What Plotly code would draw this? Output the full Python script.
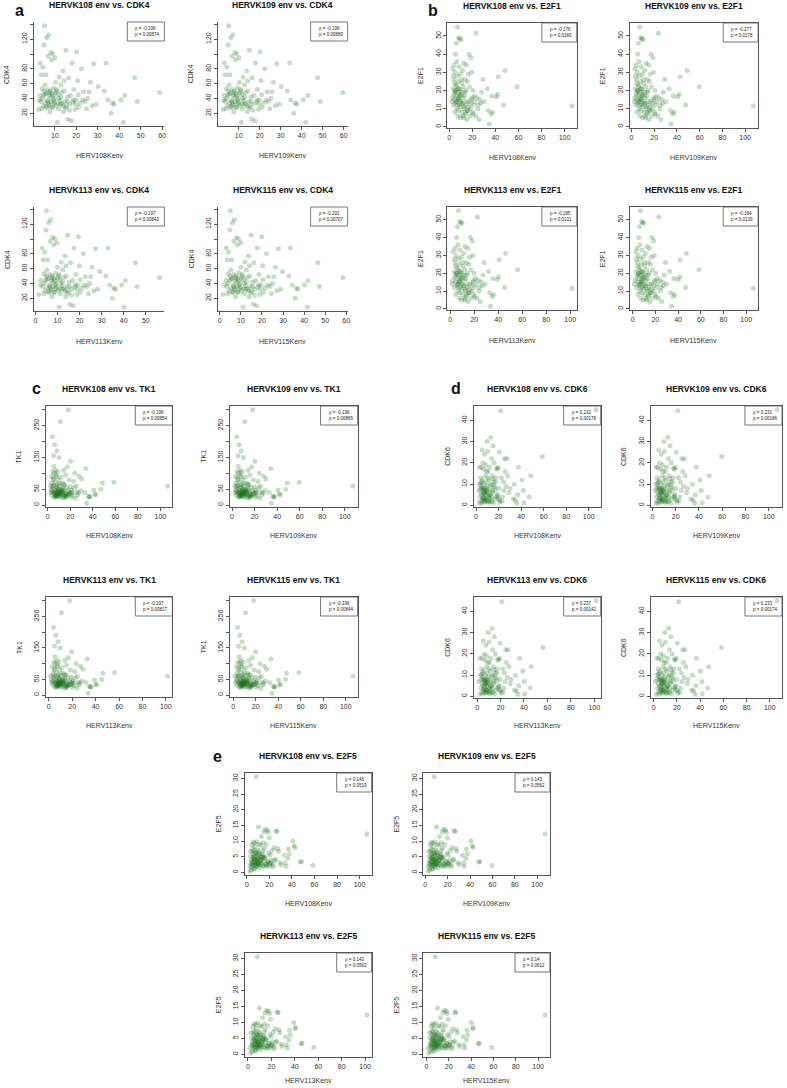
import math
import plotly.graph_objects as go

# ---------------- data (one entry per sample) ----------------
herv108 = [106.5, 58.8, 48.5, 47.2, 42.6, 41.9, 40.8, 37.6, 36.9, 36.2,
           34.8, 33.9, 33.1, 30.2, 29.3, 28.1, 27.4, 26.6, 25.9, 25.3,
           24.8, 24.1, 23.4, 23.0, 22.4, 21.8, 21.1, 20.6, 20.2, 19.8,
           19.4, 18.9, 18.4, 18.1, 17.7, 17.3, 16.9, 16.4, 16.1, 15.8,
           15.4, 15.1, 14.8, 14.4, 14.1, 13.8, 13.4, 13.1, 12.8, 12.4,
           12.1, 11.8, 11.5, 11.2, 10.9, 10.6, 10.3, 10.1, 9.8, 9.6,
           9.3, 9.1, 8.9, 8.7, 8.5, 8.3, 8.1, 7.9, 7.7, 7.5,
           7.3, 7.1, 6.9, 6.8, 6.6, 6.4, 6.2, 6.0, 5.8, 5.6,
           5.4, 5.2, 5.0, 4.8, 4.6, 4.4, 4.2, 4.0, 3.7, 3.5,
           3.2, 2.9, 2.5, 11.9, 9.9, 13.9, 8.2, 6.1, 15.9, 10.8,
           9.2, 7.2, 12.9, 5.1, 18.7, 20.9, 14.9, 9.4, 12.6, 7.6,
           4.1, 16.8, 10.4, 6.7, 14.3, 8.6, 3.1, 11.6, 5.5, 19.6]

herv109 = [107.2, 59.6, 48.9, 47.6, 42.9, 41.9, 40.8, 37.6, 36.9, 36.2,
           34.8, 34.3, 33.1, 30.2, 29.3, 28.1, 27.4, 26.6, 25.9, 25.3,
           24.8, 24.1, 23.6, 23.0, 22.4, 21.8, 21.1, 20.6, 20.2, 19.8,
           19.4, 18.9, 18.4, 18.1, 17.7, 17.3, 16.9, 16.4, 16.1, 15.8,
           15.4, 15.1, 14.8, 14.4, 14.1, 13.8, 13.4, 13.1, 12.8, 12.4,
           12.1, 11.8, 11.5, 11.2, 10.9, 10.6, 10.3, 10.1, 9.8, 9.6,
           9.3, 9.1, 8.9, 8.7, 8.5, 8.3, 8.1, 7.9, 7.7, 7.5,
           7.3, 7.1, 6.9, 6.8, 6.6, 6.4, 6.2, 6.0, 5.8, 5.6,
           5.4, 5.2, 5.0, 4.8, 4.6, 4.4, 4.2, 4.0, 3.7, 3.5,
           3.2, 2.9, 2.5, 11.9, 9.9, 13.9, 8.2, 6.1, 15.9, 10.8,
           9.2, 7.2, 12.9, 5.1, 18.7, 20.9, 14.9, 9.4, 12.6, 7.6,
           4.1, 16.8, 10.4, 6.7, 14.3, 8.6, 3.1, 11.6, 5.5, 19.6]

herv113 = [101.5, 56.2, 46.1, 45.3, 40.7, 40.2, 39.1, 36.2, 35.5, 34.9,
           33.6, 32.8, 31.9, 29.1, 28.3, 27.2, 26.5, 25.7, 25.0, 24.5,
           24.0, 23.3, 22.6, 22.2, 21.7, 21.1, 20.4, 19.9, 19.5, 19.2,
           18.8, 18.3, 17.8, 17.5, 17.1, 16.8, 16.4, 15.9, 15.6, 15.3,
           14.9, 14.6, 14.3, 14.0, 13.7, 13.4, 13.0, 12.7, 12.4, 12.0,
           11.7, 11.4, 11.1, 10.8, 10.6, 10.3, 10.0, 9.8, 9.5, 9.3,
           9.0, 8.8, 8.6, 8.4, 8.2, 8.0, 7.8, 7.7, 7.5, 7.3,
           7.1, 6.9, 6.7, 6.6, 6.4, 6.2, 6.0, 5.8, 5.6, 5.4,
           5.2, 5.0, 4.8, 4.6, 4.4, 4.2, 4.0, 3.8, 3.5, 3.3,
           3.0, 2.2, 1.5, 11.5, 9.6, 13.5, 7.9, 5.9, 15.4, 10.5,
           8.9, 7.0, 12.5, 4.9, 18.1, 20.2, 14.4, 9.1, 12.2, 7.4,
           3.9, 16.3, 10.1, 6.5, 13.8, 8.3, 2.4, 11.2, 5.3, 19.0]

herv115 = [106.3, 58.4, 47.3, 46.5, 41.8, 41.5, 40.2, 37.0, 36.4, 35.8,
           34.4, 33.5, 32.7, 29.8, 28.9, 27.8, 27.0, 26.3, 25.6, 25.0,
           24.5, 23.8, 23.1, 22.7, 22.1, 21.5, 20.8, 20.3, 19.9, 19.5,
           19.1, 18.6, 18.1, 17.8, 17.4, 17.0, 16.6, 16.2, 15.9, 15.6,
           15.2, 14.9, 14.6, 14.2, 13.9, 13.6, 13.2, 12.9, 12.6, 12.2,
           11.9, 11.6, 11.3, 11.0, 10.7, 10.4, 10.1, 9.9, 9.6, 9.4,
           9.1, 8.9, 8.7, 8.5, 8.3, 8.1, 7.9, 7.7, 7.5, 7.3,
           7.1, 6.9, 6.7, 6.6, 6.4, 6.2, 6.0, 5.8, 5.6, 5.4,
           5.2, 5.0, 4.8, 4.6, 4.4, 4.2, 4.0, 3.8, 3.5, 3.3,
           3.0, 2.1, 1.5, 11.7, 9.7, 13.7, 8.0, 6.0, 15.7, 10.6,
           9.0, 7.1, 12.7, 5.0, 18.4, 20.6, 14.7, 9.2, 12.4, 7.5,
           4.0, 16.6, 10.2, 6.6, 14.1, 8.4, 2.9, 11.4, 5.4, 19.3]

cdk4 = [None, 48, 36, 68, 44, 8, 38, 32, 34, 20,
        38, 88, 50, 56, 32, 87, 30, 62, 49, 40,
        26, 36, 49, 38, 80, 34, 28, 64, 103, 38,
        25, 52, 35, 88, 10, 44, 32, 68, 12, 42,
        29, 105, 36, 50, 22, 77, 33, 48, 58, 37,
        69, 26, 45, 8, 52, 30, 62, 95, 40, 33,
        54, 100, 28, 47, 92, 36, 102, 50, 22, 44,
        31, 126, 97, 52, 38, 27, 122, 47, 72, 34,
        58, 138, 112, 44, 30, 82, 40, 26, 72, 36,
        88, 38, 25, 40, 35, 30, 42, 29, 36, 50,
        44, 33, 42, 50, 38, 45, 27, 38, 32, 48,
        53, 24, 47, 36, 64, 28, 44, 33, 46, 32]

e2f1 = [11.5, 22, 31, 12, 27.5, 18, 16.5, 8, 17, 7,
        1.5, 9, 21, 14, 26, 19, 13, 15, 4, 12,
        10, 16, 51.5, 6, 14, 17, 12, 20, 8, 16,
        30, 38, 10, 6, 22, 40, 14, 29, 9, 25,
        4, 34, 20, 12, 7, 26, 17, 11, 35, 22,
        6, 19, 31, 13, 8, 26, 14, 48, 20, 5,
        17, 48.5, 12, 21, 33, 9, 49, 15, 25, 6,
        19, 55, 28, 14, 36, 10, 46, 17, 23, 13,
        40, 20, 30, 8, 24, 15, 34, 18, 12, 28,
        21, 16, 14, 16, 11, 19, 21, 14, 9, 24,
        18, 12, 10, 19, 13, 7, 14, 29, 5, 16,
        26, 11, 17.5, 22, 8, 15, 32, 13, 20, 15]

tk1 = [60, 72, 70, 50, 33, 35, 48, 27, 25, 28,
       6, 115, 40, 82, 45, 92, 38, 33, 42, 60,
       22, 100, 55, 75, 30, 38, 47, 25, 138, 58,
       40, 80, 300, 45, 32, 120, 55, 36, 28, 95,
       42, 65, 30, 38, 110, 48, 25, 70, 40, 52,
       35, 88, 30, 262, 45, 25, 62, 150, 37, 80,
       52, 28, 105, 40, 65, 33, 170, 45, 90, 38,
       58, 110, 30, 72, 48, 35, 190, 42, 100, 25,
       62, 155, 80, 38, 55, 105, 215, 45, 70, 32,
       90, 40, 60, 48, 33, 55, 30, 40, 27, 68,
       38, 26, 44, 85, 34, 41, 22, 47, 36, 95,
       60, 30, 42, 28, 65, 55, 48, 38, 122, 35]

cdk6 = [45, 23, 14, 4, 1.2, 7, 12, 18, 5, 1,
        2.5, 10, 3, 8, 6, 14, 22, 9, 16, 22,
        7, 11, 4, 2, 13, 44.5, 1.5, 25, 8, 18,
        5, 17, 4, 17.5, 13, 11, 7, 3, 20, 9,
        1, 28, 6, 14, 2, 22, 10, 32, 5, 7.5,
        18, 3, 12, 1.2, 16, 6, 25.5, 4, 30, 9,
        2.5, 11, 7, 19, 5, 14, 8, 3, 1.5, 24,
        10, 6, 17, 4, 7, 2, 20, 8, 12, 3,
        26, 5, 1, 9, 18, 6, 2, 13, 8, 4,
        10, 1, 7, 5, 8, 4, 6, 3.5, 11, 2,
        16, 7.5, 9.5, 11, 4.5, 2.5, 12.5, 6.5, 1.8, 3,
        10.5, 8.5, 13, 5.5, 7, 2, 18, 4, 8, 3]

e2f5 = [12.3, 2.2, 3.5, 3.3, 8, 8.5, 10, 6, 7.5, 4.5,
        2, 3, 5.5, 2.5, 3.2, 6.8, 7.6, 13.1, 13.2, 4.2,
        3.8, 8, 2.5, 1.8, 7, 4, 3, 5.6, 2.7, 11,
        6.2, 12.8, 3.4, 13.5, 2.2, 9, 2.6, 13.8, 5, 4.5,
        7.8, 13, 3.6, 9.5, 2.1, 4.8, 6, 3, 11.5, 2.4,
        8.7, 4.2, 5.3, 1.5, 9, 3.1, 6.7, 14.5, 2.5, 4.6,
        7.2, 5.8, 1.8, 3.9, 9.8, 2.9, 30.5, 4.1, 6.4, 3.3,
        8.2, 5.1, 2.6, 9.3, 4.4, 1.2, 7, 3.5, 5.9, 2.2,
        9.6, 4.8, 3, 6.5, 2.4, 8.8, 1.6, 4, 0.8, 2.9,
        5.2, 0.4, 2, 3.7, 2.8, 5.5, 2.1, 4.3, 1.9, 6.1,
        3.2, 2.3, 4.9, 7.5, 3.6, 2.9, 4.7, 5.4, 3.9, 6,
        3.4, 2.7, 4.4, 1.1, 7, 3.8, 6.8, 2.6, 5, 2]

herv_names = ["108", "109", "113", "115"]

cdk4_rho = ["-0.196", "-0.196", "-0.197", "-0.201"]
cdk4_p = ["0.00874", "0.00889", "0.00842", "0.00707"]
e2f1_rho = ["-0.176", "-0.177", "-0.185", "-0.184"]
e2f1_p = ["0.0183", "0.0178", "0.0131", "0.0139"]
tk1_rho = ["-0.196", "-0.196", "-0.197", "-0.196"]
tk1_p = ["0.00854", "0.00865", "0.00817", "0.00844"]
cdk6_rho = ["0.232", "0.231", "0.237", "0.233"]
cdk6_p = ["0.00178", "0.00186", "0.00142", "0.00174"]
e2f5_rho = ["0.146", "0.143", "0.143", "0.14"]
e2f5_p = ["0.0519", "0.0562", "0.0563", "0.0612"]

# ---------------- layout (pixel geometry) ----------------
W, H = 787, 1088
FONT = "Liberation Sans, Arial, Helvetica, sans-serif"
GREEN = "rgba(0,100,0,0.22)"
AXC = "#555555"
TXT = "#222222"

hervs = [herv108, herv109, herv113, herv115]

panels = [
    dict(letter="a", gene="CDK4", y=cdk4, rho=cdk4_rho, p=cdk4_p, boxed=False,
         cols=[(34, 165), (219, 349)], rows=[(22, 126), (207, 311)], xlab_off=[30, 30],
         xstep=10, ystep=20, yhide=[100, 140], lab=(20, 0)),
    dict(letter="b", gene="E2F1", y=e2f1, rho=e2f1_rho, p=e2f1_p, boxed=True,
         cols=[(449, 579), (632, 761)], rows=[(23, 128), (207, 310)], xlab_off=[29, 30],
         xstep=20, ystep=10, yhide=[], lab=(435, 0)),
    dict(letter="c", gene="TK1", y=tk1, rho=tk1_rho, p=tk1_p, boxed=True,
         cols=[(46, 173), (231, 359)], rows=[(406, 507), (597, 697)], xlab_off=[28, 28],
         xstep=20, ystep=50, yhide=[100, 200, 300], lab=(37, 378)),
    dict(letter="d", gene="CDK6", y=cdk6, rho=cdk6_rho, p=cdk6_p, boxed=True,
         cols=[(476, 603), (653, 785)], rows=[(406, 507), (597, 698)], xlab_off=[28, 27],
         xstep=20, ystep=10, yhide=[], lab=(458, 378)),
    dict(letter="e", gene="E2F5", y=e2f5, rho=e2f5_rho, p=e2f5_p, boxed=True,
         cols=[(246, 373), (425, 552)], rows=[(773, 875), (953, 1057)], xlab_off=[28, 23],
         xstep=20, ystep=5, yhide=[], lab=(218, 746)),
]


def fx(px):
    return px / W


def fy(py):
    return 1 - py / H


def rrange(v):
    lo, hi = min(v), max(v)
    pad = 0.04 * (hi - lo)
    return [lo - pad, hi + pad]


def make_ticks(r, step):
    t = math.ceil(r[0] / step - 1e-9) * step
    out = []
    while t <= r[1] + 1e-9:
        out.append(round(t, 6))
        t += step
    return out


def fmt(v):
    return str(int(v)) if float(v).is_integer() else str(v)


fig = go.Figure()
layout = dict(width=W, height=H, autosize=False, margin=dict(l=0, r=0, t=0, b=0),
              paper_bgcolor="white", plot_bgcolor="white", showlegend=False,
              font=dict(family=FONT, color=TXT))
annotations = []
shapes = []

n = 0
for pan in panels:
    lx, ly = pan["lab"]
    annotations.append(dict(text="<b>%s</b>" % pan["letter"], x=fx(lx), y=fy(ly),
                            xref="paper", yref="paper", showarrow=False,
                            xanchor="center", yanchor="top",
                            font=dict(size=16, family=FONT, color="#111")))
    for k in range(4):
        n += 1
        sfx = "" if n == 1 else str(n)
        r, c = k // 2, k % 2
        x0, x1 = pan["cols"][c]
        y0, y1 = pan["rows"][r]
        xs, ys = [], []
        for xv, yv in zip(hervs[k], pan["y"]):
            if yv is not None:
                xs.append(xv)
                ys.append(yv)
        fig.add_trace(go.Scatter(x=xs, y=ys, mode="markers", xaxis="x" + sfx, yaxis="y" + sfx,
                                 marker=dict(size=5, color=GREEN, line=dict(width=0)),
                                 hoverinfo="skip", showlegend=False))
        xr = rrange(xs)
        yr = rrange(ys)
        xt = make_ticks(xr, pan["xstep"])
        yt = make_ticks(yr, pan["ystep"])
        ytxt = ["" if v in pan["yhide"] else fmt(v) for v in yt]
        common = dict(ticks="outside", ticklen=3, tickwidth=0.8, tickcolor=AXC,
                      showline=True, linecolor=AXC, linewidth=0.8,
                      mirror=pan["boxed"], showgrid=False, zeroline=False,
                      tickfont=dict(size=7, family=FONT, color="#333"), fixedrange=True)
        layout["xaxis" + sfx] = dict(domain=[fx(x0), fx(x1)], range=xr, tickvals=xt,
                                     ticktext=[fmt(v) for v in xt], anchor="y" + sfx, **common)
        layout["yaxis" + sfx] = dict(domain=[fy(y1), fy(y0)], range=yr, tickvals=yt,
                                     ticktext=ytxt, tickangle=-90, anchor="x" + sfx, **common)
        cx = (x0 + x1) / 2
        # title
        annotations.append(dict(text="<b>HERVK%s env vs. %s</b>" % (herv_names[k], pan["gene"]),
                                x=fx(cx), y=fy(y0 - 17), xref="paper", yref="paper",
                                showarrow=False, xanchor="center", yanchor="middle",
                                font=dict(size=8.5, family=FONT, color="#111")))
        # axis titles
        annotations.append(dict(text="HERV%sKenv" % herv_names[k], x=fx(cx),
                                y=fy(y1 + pan["xlab_off"][r]),
                                xref="paper", yref="paper", showarrow=False,
                                xanchor="center", yanchor="middle",
                                font=dict(size=7, family=FONT, color="#333")))
        annotations.append(dict(text=pan["gene"], x=fx(x0 - 27), y=fy((y0 + y1) / 2),
                                xref="paper", yref="paper", showarrow=False, textangle=-90,
                                xanchor="center", yanchor="middle",
                                font=dict(size=7, family=FONT, color="#333")))
        # legend box
        l1 = "\u03c1 = %s" % pan["rho"][k]
        l2 = "p = %s" % pan["p"][k]
        bw = 13 + 2.2 * max(len(l1), len(l2))
        bh = 19
        shapes.append(dict(type="rect", xref="paper", yref="paper",
                           x0=fx(x1 - bw), x1=fx(x1), y0=fy(y0 + bh), y1=fy(y0),
                           line=dict(color=AXC, width=0.8), fillcolor="rgba(0,0,0,0)"))
        annotations.append(dict(text=l1 + "<br>" + l2, x=fx(x1 - bw + 6), y=fy(y0 + bh / 2),
                                xref="paper", yref="paper", showarrow=False, align="left",
                                xanchor="left", yanchor="middle",
                                font=dict(size=4.5, family=FONT, color=TXT)))

layout["annotations"] = annotations
layout["shapes"] = shapes
fig.update_layout(**layout)
fig.write_html("out.html", config={"displayModeBar": False})

# remove the browser's default page margin so the figure sits at the window origin
with open("out.html", "r", encoding="utf-8") as fh:
    html = fh.read()
html = html.replace("<head>", "<head><style>html,body{margin:0;padding:0;overflow:hidden;}</style>", 1)
with open("out.html", "w", encoding="utf-8") as fh:
    fh.write(html)
